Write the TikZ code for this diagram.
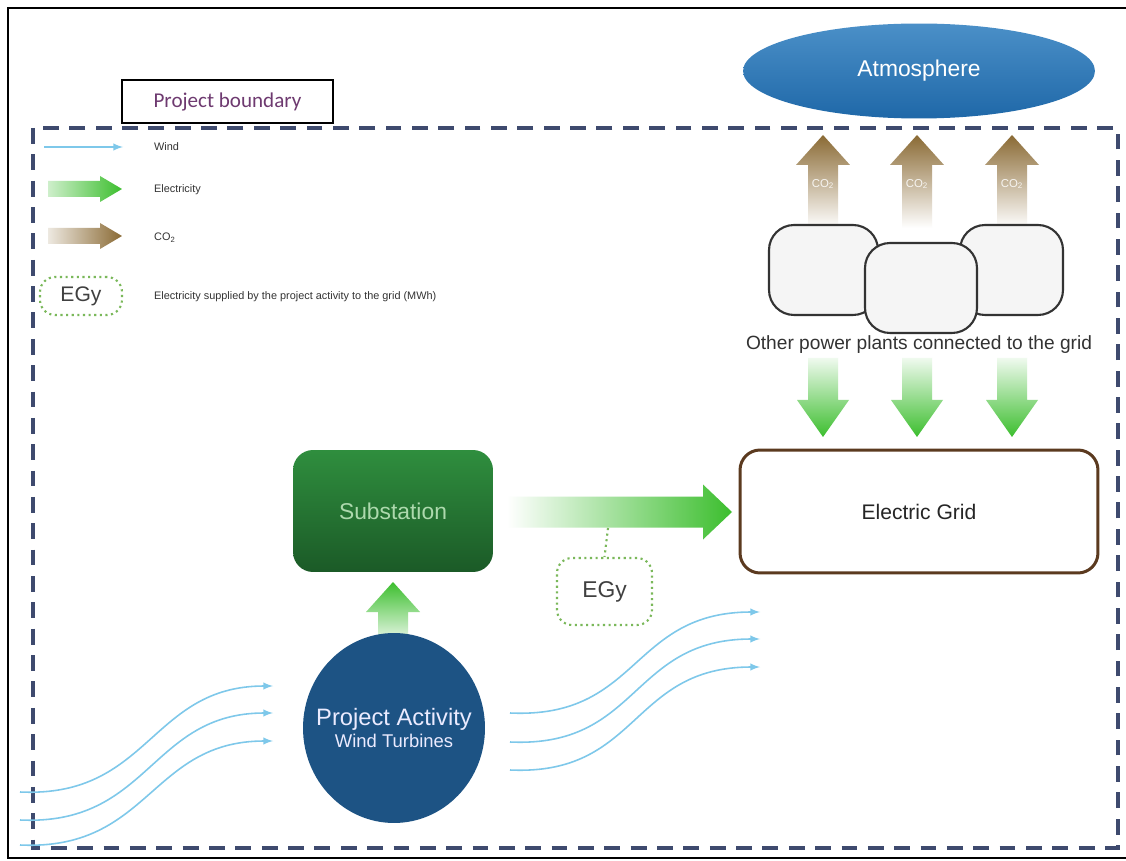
\documentclass[tikz,border=0pt]{standalone}
\usepackage{fontspec}
\setmainfont{Liberation Sans}
\newfontfamily\calibri{Carlito}
\usepackage{tikz}
\usetikzlibrary{arrows,shapes.geometric}

\definecolor{bndblue}{HTML}{3E4A6E}
\definecolor{atmblue}{HTML}{2B7CBE}
\definecolor{atmdark}{HTML}{1F68A8}
\definecolor{elgreen}{HTML}{3CBE2E}
\definecolor{cobrown}{HTML}{8A6A34}
\definecolor{subtop}{HTML}{2F8E3E}
\definecolor{subbot}{HTML}{1B5A27}
\definecolor{pablue}{HTML}{1D5384}
\definecolor{gridbrown}{HTML}{5B3A1F}
\definecolor{windblue}{HTML}{7EC8EA}
\definecolor{egygreen}{HTML}{7AB85A}
\definecolor{txtgrey}{HTML}{333333}
\definecolor{pbviolet}{HTML}{6E3A70}

% fat vertical arrow: x, tip y, head base y, tail y, half head width, shading
\newcommand{\vfat}[6]{%
    \shade[#6] (#1,#2) -- (#1+#5,#3) -- (#1+15,#3) -- (#1+15,#4)
        -- (#1-15,#4) -- (#1-15,#3) -- (#1-#5,#3) -- cycle;}
% fat horizontal arrow: tip x, head base x, tail x, y, half head, half shaft, shading
\newcommand{\hfat}[7]{%
    \shade[#7] (#1,#4) -- (#2,#4-#5) -- (#2,#4-#6) -- (#3,#4-#6)
        -- (#3,#4+#6) -- (#2,#4+#6) -- (#2,#4+#5) -- cycle;}

\begin{document}
\begin{tikzpicture}[x=0.02cm,y=-0.02cm,
    plant/.style={draw=txtgrey, fill=black!4, line width=1.2pt, rounded corners=0.5cm},
    egybox/.style={draw=egygreen, dotted, line width=1.2pt, rounded corners=0.3cm,
        text=black!75, font=\fontsize{13}{15}\selectfont},
    wind/.style={draw=windblue, line width=0.9pt, -latex},
    legtext/.style={anchor=west, text=txtgrey, font=\fontsize{6.2}{7}\selectfont},
    cotext/.style={text=white, opacity=0.85, font=\fontsize{6.5}{7}\selectfont}
]
    \useasboundingbox (0,0) rectangle (1126,861);
    \fill[white] (0,0) rectangle (1126,861);
    \draw[line width=1.2pt] (1126,8) -- (8,8) -- (8,858) -- (1126,858);
    \draw[bndblue, line width=1.8pt, dash pattern=on 9pt off 6pt] (33,128) rectangle (1118,848);

    \node[draw, line width=1.3pt, minimum width=4.22cm, minimum height=0.86cm,
        text=pbviolet, font=\calibri\fontsize{12}{14}\selectfont] (pb) at (227.5,101.5) {Project boundary};

    % legend
    \draw[wind] (44,147) -- (123,147);
    \node[legtext] (lwind) at (148,147) {Wind};
    \hfat{122}{100}{48}{189}{13}{8}{left color=elgreen!25, right color=elgreen}
    \node[legtext] (lel) at (148,190) {Electricity};
    \hfat{122}{100}{48}{236}{13}{8}{left color=cobrown!15, right color=cobrown}
    \node[legtext] (lco) at (148,238) {CO\textsubscript{2}};
    \node[egybox, minimum width=1.64cm, minimum height=0.76cm, font=\fontsize{12}{14}\selectfont] (legy) at (81,296) {EGy};
    \node[legtext] (legytext) at (148,297) {Electricity supplied by the project activity to the grid (MWh)};

    % atmosphere and other plants
    \node[ellipse, minimum width=7.04cm, minimum height=1.9cm, top color=atmblue!85!white,
        bottom color=atmdark, text=white, font=\fontsize{13}{15}\selectfont] (atm) at (919,71) {Atmosphere};
    \foreach \x in {823,917,1012} {
        \vfat{\x}{135}{165}{228}{27}{top color=cobrown, middle color=cobrown!60, bottom color=white}
        \node[cotext] at (\x,184) {CO\textsubscript{2}};
        \vfat{\x}{437}{400}{358}{26}{top color=elgreen!8, bottom color=elgreen}
    }
    \node[plant, minimum width=2.18cm, minimum height=1.8cm] (pp1) at (823.5,270) {};
    \node[plant, minimum width=2.06cm, minimum height=1.8cm] (pp3) at (1011.5,270) {};
    \node[plant, minimum width=2.24cm, minimum height=1.8cm] (pp2) at (921,288) {};
    \node[text=txtgrey, font=\fontsize{10.9}{13}\selectfont] (pptext) at (919,345) {Other power plants connected to the grid};

    \node[draw=gridbrown, line width=1.7pt, rounded corners=0.4cm, minimum width=7.16cm,
        minimum height=2.46cm, text=black!85, font=\fontsize{12}{14}\selectfont] (grid) at (919,511.5) {Electric Grid};

    % substation and project
    \node[rounded corners=0.4cm, minimum width=4cm, minimum height=2.44cm, top color=subtop,
        bottom color=subbot, text=green!20!white!85!black, font=\fontsize{13}{15}\selectfont] (sub) at (393,511) {Substation};
    \hfat{732}{703}{507}{512}{27.5}{15.5}{left color=white, right color=elgreen}
    \coordinate (egytap) at (608,528);
    \node[egybox, minimum width=1.9cm, minimum height=1.34cm] (egy) at (604.5,591.5) {EGy};
    \draw[egygreen, dotted, line width=1.2pt] (egytap) -- (egy.north);

    \vfat{393}{582}{612}{640}{27}{top color=elgreen, bottom color=elgreen!12}
    \node[ellipse, fill=pablue, inner sep=0pt, minimum width=3.64cm, minimum height=3.8cm] (pa) at (394,728) {};
    \node[text=blue!8!white, align=center] (patext) at (pa.center)
        {{\fontsize{13.5}{16}\selectfont Project Activity}\\[0pt]{\fontsize{10.5}{12}\selectfont Wind Turbines}};

    % wind
    \foreach \y/\e in {792/686,820/713,845/741} {
        \coordinate (win) at (20,\y);
        \coordinate (wout) at (273,\e);
        \draw[wind] (win) .. controls (150,\y+6) and (150,\e) .. (wout);
    }
    \foreach \y/\e in {713/612,742/639,770/667} {
        \coordinate (win) at (510,\y);
        \coordinate (wout) at (760,\e);
        \draw[wind] (win) .. controls (640,\y+6) and (630,\e) .. (wout);
    }
\end{tikzpicture}
\end{document}
